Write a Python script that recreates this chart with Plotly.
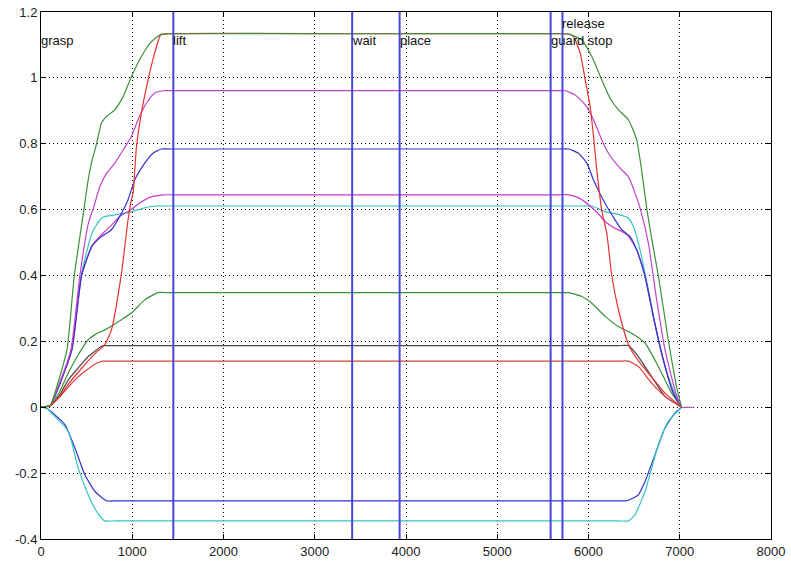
import plotly.graph_objects as go

# ---------------- data ----------------
events = ["grasp", "lift", "wait", "place", "guard stop", "release"]
event_t = [0, 1450, 3410, 3930, 5585, 5715]
event_label_y = [1.113, 1.113, 1.113, 1.113, 1.113, 1.165]

green_hi_x = [0, 100, 160, 285, 365, 470, 517, 560, 609, 663, 718, 809, 900, 991, 1100, 1210, 1319, 1420, 3500,
              5680, 5781, 5927, 6036, 6145, 6237, 6328, 6437, 6528, 6582, 6640, 6700, 6765, 6874, 6965, 7020]
green_hi_y = [0, 0.005, 0.05, 0.175, 0.40, 0.60, 0.69, 0.75, 0.80, 0.863, 0.883, 0.903, 0.943, 1.004, 1.065, 1.11, 1.133, 1.134, 1.134,
              1.134, 1.133, 1.115, 1.065, 0.994, 0.938, 0.903, 0.873, 0.812, 0.72, 0.60, 0.50, 0.40, 0.205, 0.063, 0]

red_hi_x = [0, 100, 200, 300, 450, 600, 699, 772, 882, 954, 991, 1009, 1046, 1100, 1173, 1246, 1311, 1400, 3500,
            5720, 5790, 5836, 5909, 5964, 6018, 6055, 6091, 6150, 6200, 6255, 6328, 6419, 6455, 6550, 6656, 6838, 7020]
red_hi_y = [0, 0.005, 0.03, 0.07, 0.12, 0.165, 0.19, 0.235, 0.407, 0.569, 0.63, 0.65, 0.79, 0.893, 0.994, 1.075, 1.13, 1.134, 1.134,
            1.134, 1.133, 1.125, 1.075, 0.994, 0.913, 0.822, 0.72, 0.59, 0.529, 0.40, 0.296, 0.205, 0.18, 0.14, 0.104, 0.043, 0]

mag_hi_x = [0, 100, 189, 328, 426, 520, 580, 645, 718, 809, 900, 991, 1063, 1155, 1246, 1337, 1450, 3500,
            5640, 5745, 5855, 5964, 6055, 6145, 6219, 6328, 6437, 6510, 6570, 6656, 6747, 6838, 6947, 7020, 7080, 7150]
mag_hi_y = [0, 0.005, 0.063, 0.175, 0.40, 0.56, 0.61, 0.67, 0.71, 0.741, 0.781, 0.822, 0.873, 0.923, 0.954, 0.961, 0.961, 0.961,
            0.961, 0.961, 0.948, 0.918, 0.873, 0.812, 0.771, 0.731, 0.70, 0.65, 0.60, 0.498, 0.326, 0.175, 0.053, 0, 0, 0]

blue_hi_x = [0, 100, 196, 339, 445, 560, 663, 772, 882, 954, 1027, 1137, 1227, 1319, 1430, 3500,
             5680, 5781, 5891, 5982, 6055, 6160, 6291, 6364, 6455, 6528, 6620, 6710, 6820, 6929, 7020]
blue_hi_y = [0, 0.005, 0.063, 0.175, 0.40, 0.49, 0.518, 0.539, 0.589, 0.63, 0.69, 0.741, 0.771, 0.784, 0.784, 0.784,
             0.784, 0.784, 0.771, 0.741, 0.69, 0.63, 0.569, 0.539, 0.518, 0.478, 0.397, 0.276, 0.144, 0.043, 0]

mag_lo_x = [0, 100, 196, 339, 445, 560, 681, 780, 863, 960, 1082, 1200, 1337, 1450, 3500,
            5680, 5781, 5900, 6000, 6100, 6182, 6280, 6364, 6437, 6528, 6620, 6710, 6820, 6929, 7020]
mag_lo_y = [0, 0.005, 0.063, 0.175, 0.40, 0.49, 0.529, 0.555, 0.579, 0.595, 0.62, 0.638, 0.645, 0.645, 0.645,
            0.645, 0.645, 0.635, 0.615, 0.59, 0.564, 0.545, 0.534, 0.52, 0.478, 0.397, 0.276, 0.144, 0.043, 0]

cyan_hi_x = [0, 100, 192, 335, 440, 560, 650, 699, 809, 991, 1173, 1260, 1380, 3500,
             5930, 6036, 6182, 6346, 6437, 6492, 6565, 6656, 6765, 6874, 7020, 7090]
cyan_hi_y = [0, 0.005, 0.063, 0.175, 0.40, 0.53, 0.57, 0.579, 0.584, 0.594, 0.608, 0.611, 0.611, 0.611,
             0.611, 0.611, 0.594, 0.584, 0.574, 0.549, 0.478, 0.357, 0.205, 0.093, 0, 0]

green_mid_x = [0, 100, 200, 299, 410, 517, 600, 699, 882, 991, 1137, 1282, 1400, 3500,
               5680, 5781, 5927, 6036, 6182, 6328, 6473, 6620, 6765, 6911, 7020]
green_mid_y = [0, 0.005, 0.045, 0.104, 0.16, 0.205, 0.222, 0.235, 0.266, 0.286, 0.326, 0.348, 0.348, 0.348,
               0.348, 0.348, 0.336, 0.316, 0.276, 0.245, 0.225, 0.195, 0.124, 0.043, 0]

gray_x = [0, 100, 200, 299, 410, 517, 600, 663, 700, 820, 3500,
          6320, 6437, 6546, 6692, 6838, 7020]
gray_y = [0, 0.005, 0.035, 0.083, 0.12, 0.154, 0.172, 0.185, 0.187, 0.187, 0.187,
          0.187, 0.187, 0.154, 0.093, 0.033, 0]

red_lo_x = [0, 100, 200, 372, 460, 554, 620, 681, 800, 3500,
            6320, 6437, 6546, 6692, 6838, 7020]
red_lo_y = [0, 0.004, 0.03, 0.083, 0.105, 0.124, 0.135, 0.140, 0.140, 0.140,
            0.140, 0.140, 0.124, 0.073, 0.033, 0]

blue_neg_x = [0, 60, 153, 262, 372, 481, 590, 718, 840, 3500,
              6300, 6419, 6546, 6620, 6729, 6838, 6947, 7020]
blue_neg_y = [0, -0.003, -0.023, -0.053, -0.124, -0.205, -0.255, -0.284, -0.284, -0.284,
              -0.284, -0.284, -0.266, -0.225, -0.144, -0.063, -0.018, 0]

cyan_neg_x = [0, 60, 153, 299, 408, 517, 609, 699, 820, 3500,
              6320, 6437, 6510, 6620, 6765, 6874, 7020]
cyan_neg_y = [0, -0.003, -0.028, -0.073, -0.185, -0.266, -0.316, -0.345, -0.345, -0.345,
              -0.345, -0.345, -0.326, -0.255, -0.114, -0.043, 0]

series = [
    ("gray", gray_x, gray_y, "#4a4a4a"),
    ("red low", red_lo_x, red_lo_y, "#e0403a"),
    ("green mid", green_mid_x, green_mid_y, "#3a923a"),
    ("blue neg", blue_neg_x, blue_neg_y, "#3434d0"),
    ("cyan neg", cyan_neg_x, cyan_neg_y, "#35c4c4"),
    ("cyan high", cyan_hi_x, cyan_hi_y, "#35c4c4"),
    ("magenta low", mag_lo_x, mag_lo_y, "#c838c8"),
    ("blue high", blue_hi_x, blue_hi_y, "#3434d0"),
    ("magenta high", mag_hi_x, mag_hi_y, "#c044c8"),
    ("red high", red_hi_x, red_hi_y, "#e8302c"),
    ("green high", green_hi_x, green_hi_y, "#3a923a"),
]

x_ticks = [0, 1000, 2000, 3000, 4000, 5000, 6000, 7000, 8000]
y_ticks = [-0.4, -0.2, 0, 0.2, 0.4, 0.6, 0.8, 1, 1.2]
y_tick_text = ["-0.4", "-0.2", "0", "0.2", "0.4", "0.6", "0.8", "1", "1.2"]

# ---------------- figure ----------------
fig = go.Figure()

for t in event_t[1:]:
    fig.add_vline(x=t, line=dict(color="#4646dc", width=2), layer="above")

for name, xs, ys, col in series:
    fig.add_trace(go.Scatter(x=xs, y=ys, mode="lines", name=name,
                             line=dict(color=col, width=1.2, shape="spline", smoothing=0.5),
                             hoverinfo="skip"))

for lab, t, ly in zip(events, event_t, event_label_y):
    fig.add_annotation(x=t, y=ly, text=lab, showarrow=False, xanchor="left", yanchor="middle",
                       xshift=-2, font=dict(family="Liberation Sans, Arial, sans-serif", size=13, color="#111111"))

axis_common = dict(showline=True, linecolor="black", linewidth=1, mirror="ticks",
                   ticks="inside", ticklen=5, tickcolor="black",
                   showgrid=True, gridcolor="black", gridwidth=1, griddash="1px,3px",
                   zeroline=False, automargin=False,
                   tickfont=dict(family="Liberation Sans Narrow, Liberation Sans, Arial, sans-serif",
                                 size=13, color="#222222"))

fig.update_xaxes(range=[0, 8000], tickvals=x_ticks, ticktext=[str(v) for v in x_ticks], **axis_common)
fig.update_yaxes(range=[-0.4, 1.2], tickvals=y_ticks, ticktext=y_tick_text, **axis_common)

fig.update_layout(width=791, height=562, showlegend=False,
                  plot_bgcolor="white", paper_bgcolor="white",
                  margin=dict(l=41, r=20, t=12, b=23))

# remove the browser's default 8px body margin so the figure sits at the page corner
fig.write_html("out.html", config={"displayModeBar": False},
               post_script="document.body.style.margin='0';document.body.style.overflow='hidden';")
